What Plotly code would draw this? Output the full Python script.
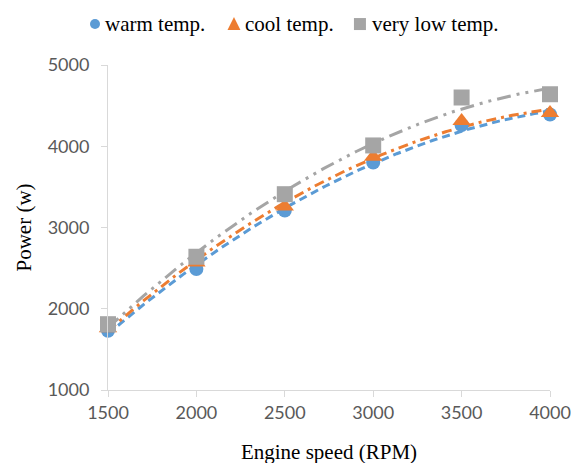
import numpy as np
import plotly.graph_objects as go

rpm = [1500, 2000, 2500, 3000, 3500, 4000]
warm = [1730, 2490, 3210, 3800, 4260, 4390]
cool = [1760, 2570, 3260, 3870, 4310, 4410]
very_low = [1810, 2640, 3410, 4010, 4600, 4640]
x_ticks = [1500, 2000, 2500, 3000, 3500, 4000]
y_ticks = [1000, 2000, 3000, 4000, 5000]
series_names = ["warm temp.", "cool temp.", "very low temp."]

colors = ["#5B9BD5", "#ED7D31", "#A5A5A5"]
symbols = ["circle", "triangle-up", "square"]
sizes = [14, 16, 16]
dashes = ["8px,5px", "10px,5px,3px,5px", "14px,6px,3px,6px,3px,6px"]
data = [warm, cool, very_low]

fig = go.Figure()
xf = np.linspace(min(rpm), max(rpm), 200)
# polynomial trendlines (order 2) fitted from the data
for vals, col, dash in zip(data, colors, dashes):
    c = np.polyfit(rpm, vals, 2)
    fig.add_trace(go.Scatter(x=xf, y=np.polyval(c, xf), mode="lines",
                             line=dict(color=col, width=3, dash=dash),
                             showlegend=False, hoverinfo="skip", cliponaxis=False))
for name, vals, col, sym, sz in zip(series_names, data, colors, symbols, sizes):
    fig.add_trace(go.Scatter(x=rpm, y=vals, mode="markers", name=name,
                             marker=dict(color=col, symbol=sym, size=sz),
                             showlegend=False, cliponaxis=False))

# compact legend (marker shapes + text) at the top
leg_y = 1.126
mark_x = [-0.0294, 0.285, 0.570]
text_x = [-0.0113, 0.3054, 0.5928]
shape_common = dict(xref="paper", yref="paper", xsizemode="pixel", ysizemode="pixel",
                    line=dict(width=0), layer="above")
fig.add_shape(type="circle", xanchor=mark_x[0], yanchor=leg_y, x0=-5, x1=5, y0=-5, y1=5,
              fillcolor=colors[0], **shape_common)
fig.add_shape(type="path", xanchor=mark_x[1], yanchor=leg_y,
              path="M -6.5,-6 L 6.5,-6 L 0,7 Z", fillcolor=colors[1], **shape_common)
fig.add_shape(type="rect", xanchor=mark_x[2], yanchor=leg_y, x0=-6, x1=6, y0=-6, y1=6,
              fillcolor=colors[2], **shape_common)
for name, tx in zip(series_names, text_x):
    fig.add_annotation(x=tx, y=leg_y, xref="paper", yref="paper", text=name,
                       showarrow=False, xanchor="left", yanchor="middle",
                       font=dict(family="Liberation Serif", size=21, color="#000"))

tickfont = dict(family="Lato", size=18, color="#595959")
titlefont = dict(family="Liberation Serif", size=21, color="#000")

fig.update_layout(
    width=579, height=463,
    margin=dict(l=100, r=37, t=57, b=81, autoexpand=False),
    paper_bgcolor="white", plot_bgcolor="white",
    showlegend=False,
    xaxis=dict(range=[1500, 4000], tickvals=x_ticks, showgrid=False, zeroline=False,
               showline=True, linecolor="#D9D9D9", linewidth=1,
               ticks="outside", ticklen=6, tickcolor="#D9D9D9",
               tickfont=tickfont,
               title=dict(text="Engine speed (RPM)", standoff=22, font=titlefont)),
    yaxis=dict(range=[1000, 5000], tickvals=y_ticks, showgrid=False, zeroline=False,
               showline=True, linecolor="#D9D9D9", linewidth=1,
               ticks="outside", ticklen=6, tickcolor="#D9D9D9",
               ticklabelstandoff=8, tickfont=tickfont,
               title=dict(text="Power (w)", standoff=10, font=titlefont)),
)
fig.write_html("out.html")
